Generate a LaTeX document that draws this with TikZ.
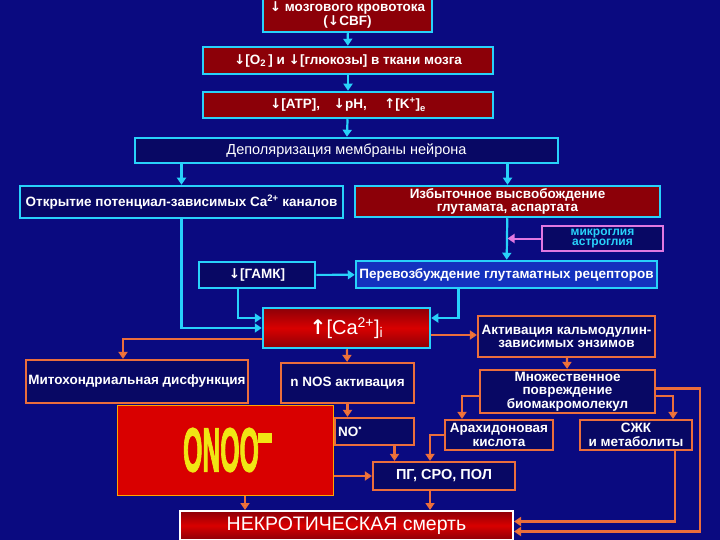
\documentclass[tikz,border=0pt]{standalone}
\usepackage{fontspec}
\setmainfont{Liberation Sans}
\newfontfamily\arrowfont{DejaVu Sans}
\newfontfamily\onoofont[FakeBold=2.5]{Liberation Sans Bold}
\usetikzlibrary{arrows.meta, positioning}

\definecolor{bgblue}{RGB}{10,10,128}
\definecolor{navyfill}{RGB}{8,8,100}
\definecolor{darkred}{RGB}{140,0,8}
\definecolor{cyanline}{RGB}{40,210,250}
\definecolor{orangeline}{RGB}{235,110,60}
\definecolor{orangetip}{RGB}{250,130,40}
\definecolor{pinkline}{RGB}{225,120,225}
\definecolor{glutblue}{RGB}{20,50,190}
\definecolor{onooyellow}{RGB}{240,230,20}

\newcommand{\arrdown}{{\arrowfont\bfseries ↓}}
\newcommand{\arrup}{{\arrowfont\bfseries ↑}}

\begin{document}
\begin{tikzpicture}[x=1pt, y=-1pt,
    base/.style={align=center, inner sep=0pt, text=white,
        font=\bfseries\fontsize{13.5}{13.5}\selectfont},
    redbox/.style={base, draw=cyanline, line width=2.5pt, fill=darkred},
    cbox/.style={base, draw=cyanline, line width=2.5pt, fill=navyfill},
    obox/.style={base, draw=orangeline, line width=2.2pt, fill=navyfill},
    carrow/.style={draw=cyanline, line width=2.2pt, -{Triangle[width=9pt,length=7pt]}},
    oarrow/.style={draw=orangeline, line width=2.2pt, -{Triangle[width=9pt,length=7pt,fill=orangetip]}},
    parrow/.style={draw=pinkline, line width=2pt, -{Triangle[width=9pt,length=7pt]}}
]

% фон
\useasboundingbox (0,0) rectangle (720,540);
\fill[bgblue] (0,0) rectangle (720,540);

% верхняя цепочка
\node[redbox, minimum width=169pt, minimum height=34pt] (cbf) at (347.5,15)
    {\arrdown\ мозгового кровотока\\(\arrdown CBF)};
\node[redbox, minimum width=290pt, minimum height=27pt] (oxy) at (348,60.5)
    {\arrdown[O\textsubscript{2}\,] и \arrdown[глюкозы] в ткани мозга};
\node[redbox, minimum width=290pt, minimum height=26pt] (atp) at (348,105)
    {\arrdown[ATP],\quad\arrdown pH,\quad\ \arrup[K\textsuperscript{+}]\textsubscript{e}};
\node[cbox, font=\fontsize{14.5}{15}\selectfont, minimum width=423pt, minimum height=25pt] (depol) at (346.5,150.5)
    {Деполяризация мембраны нейрона};

% каналы и глутамат
\node[cbox, minimum width=323pt, minimum height=32pt] (chan) at (181.5,202)
    {Открытие потенциал-зависимых Ca\textsuperscript{2+} каналов};
\node[redbox, minimum width=305pt, minimum height=31pt] (glut) at (507.5,201.5)
    {Избыточное высвобождение\\глутамата, аспартата};
\node[base, draw=pinkline, line width=2pt, fill=navyfill, text=cyanline,
      font=\bfseries\fontsize{12}{10.5}\selectfont,
      minimum width=121pt, minimum height=25pt] (glia) at (602.5,238.5)
    {микроглия\\астроглия};
\node[cbox, minimum width=116pt, minimum height=26pt] (gaba) at (257,275)
    {\arrdown[ГАМК]};
\node[cbox, fill=glutblue, minimum width=301pt, minimum height=27pt] (excit) at (506.5,274.5)
    {Перевозбуждение глутаматных рецепторов};

% кальций
\node[base, draw=cyanline, line width=2.5pt, top color=darkred, bottom color=darkred,
      middle color=red!85!black, font=\fontsize{20}{22}\selectfont,
      minimum width=167pt, minimum height=40pt] (ca) at (346.5,328)
    {\arrup[Ca\textsuperscript{2+}]\textsubscript{i}};
\node[obox, minimum width=177pt, minimum height=41pt] (calm) at (566.5,336.5)
    {Активация кальмодулин-\\зависимых энзимов};

% последствия
\node[obox, minimum width=222pt, minimum height=43pt] (mito) at (137,381.5)
    {Митохондриальная дисфункция};
\node[obox, minimum width=133pt, minimum height=40pt] (nos) at (347.5,383)
    {n NOS активация};
\node[obox, minimum width=175pt, minimum height=43pt] (multi) at (567.5,391.5)
    {Множественное\\повреждение\\биомакромолекул};
\node[base, draw=orange!70!yellow, line width=1pt, fill=red!85!black, text=onooyellow,
      font=\onoofont\fontsize{62}{62}\selectfont,
      minimum width=216pt, minimum height=90pt] (onoo) at (225,450)
    {\hspace*{-8pt}\raisebox{-7pt}{\scalebox{0.4}[1]{ONOO}}};
\fill[onooyellow] (258,433) rectangle (272,443);
\node[obox, minimum width=79pt, minimum height=27pt, text width=73pt, align=left] (no) at (374.5,431.5)
    {NO\textsuperscript{•}};
\node[obox, minimum width=108pt, minimum height=30pt] (arach) at (499,435)
    {Арахидоновая\\кислота};
\node[obox, minimum width=112pt, minimum height=30pt] (ffa) at (636,435)
    {СЖК\\и метаболиты};
\node[obox, font=\bfseries\fontsize{14.5}{15}\selectfont, minimum width=142pt, minimum height=28pt] (pg) at (444,476)
    {ПГ, СРО, ПОЛ};
\node[base, draw=white, line width=2pt, top color=darkred, bottom color=darkred,
      middle color=red!85!black, font=\fontsize{19.5}{21}\selectfont,
      minimum width=333pt, minimum height=29pt] (necro) at (346.5,525.5)
    {НЕКРОТИЧЕСКАЯ смерть};
\coordinate (rail) at (700,0);

% голубые стрелки
\draw[carrow] (cbf) -- (oxy);
\draw[carrow] (oxy) -- (atp);
\draw[carrow] (atp) -- (depol);
\draw[carrow] (depol.south -| chan) -- (chan.north);
\draw[carrow] (depol.south -| glut) -- (glut.north);
\draw[carrow] (glut) -- (excit);
\draw[parrow] (glia.west) -- (glia.west -| glut);
\draw[carrow] (gaba) -- (excit);
\draw[carrow] (chan.south) |- (ca.west);
\draw[carrow] ([xshift=-19pt]gaba.south) |- ([yshift=10pt]ca.west);
\draw[carrow] ([xshift=-48pt]excit.south) |- ([yshift=10pt]ca.east);

% оранжевые стрелки
\draw[oarrow] ([yshift=-11pt]ca.west) -| ([xshift=-14pt]mito.north);
\draw[oarrow] ([yshift=-7pt]ca.east) -- ([yshift=-7pt]ca.east -| calm.west);
\draw[oarrow] (ca) -- (nos);
\draw[oarrow] (calm) -- (multi);
\draw[oarrow] (nos.south) -- (nos.south |- no.north);
\draw[oarrow] ([yshift=-4.5pt]multi.west) -| ([xshift=-37pt]arach.north);
\draw[oarrow] ([yshift=-4.5pt]multi.east) -| ([xshift=37pt]ffa.north);
\draw[oarrow] ([yshift=3pt]multi.east) -- ([yshift=3pt]multi.east -| rail) |- ([yshift=-6pt]necro.east);
\draw[oarrow] ([xshift=39pt]ffa.south) |- ([yshift=4pt]necro.east);
\draw[oarrow] (arach.west) -| ([xshift=-14pt]pg.north);
\draw[oarrow] ([xshift=20pt]no.south) -- ([xshift=20pt]no.south |- pg.north);
\draw[oarrow] (onoo.east |- pg.west) -- (pg.west);
\draw[oarrow] ([xshift=20pt]onoo.south) -- ([xshift=20pt]onoo.south |- necro.north);
\draw[oarrow] ([xshift=-14pt]pg.south) -- ([xshift=-14pt]pg.south |- necro.north);
\end{tikzpicture}
\end{document}
